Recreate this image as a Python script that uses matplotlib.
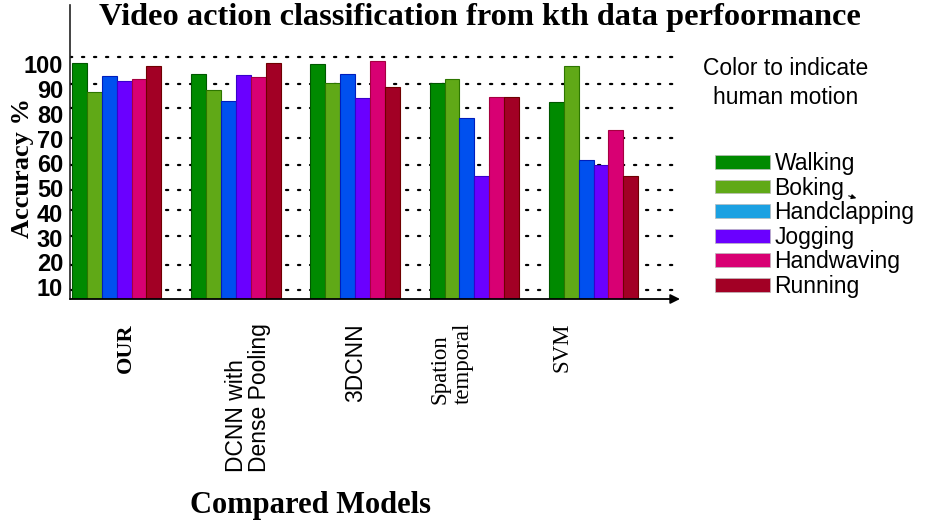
import numpy as np
import matplotlib
matplotlib.use("Agg")
import matplotlib.pyplot as plt
import matplotlib.transforms as mtransforms
from matplotlib.patches import Patch


##### DATA #####

models = ["OUR", "DCNN with\nDense Pooling", "3DCNN", "Spation\ntemporal", "SVM"]
motions = ["Walking", "Boking", "Handclapping", "Jogging", "Handwaving", "Running"]

walking      = [100.4, 95.9, 100.1, 92.3, 84.7]
boking       = [88.9, 89.6, 92.3, 93.9, 99.3]
handclapping = [95.4, 85.1, 96.0, 78.3, 61.3]
jogging      = [93.3, 95.8, 86.5, 55.0, 59.4]
handwaving   = [93.9, 95.0, 101.2, 86.9, 73.4]
running      = [99.3, 100.4, 90.9, 86.9, 54.9]

yticks = [10, 20, 30, 40, 50, 60, 70, 80, 90, 100]


##### STYLE #####

bar_colors    = ["#008a00", "#60a917", "#0050ef", "#6a00ff", "#d80073", "#a20025"]
edge_colors   = ["#005700", "#2d7600", "#001dbc", "#3700cc", "#a50040", "#6f0000"]
legend_colors = ["#008a00", "#60a917", "#1ba1e2", "#6a00ff", "#d80073", "#a20025"]

# dotted guide lines (hand drawn in the original, not on the tick values)
guide_levels = [102.9, 92.0, 82.3, 70.2, 59.3, 49.2, 41.2, 30.7, 19.0, 8.9]

# per label shift of the category names (in bar widths)
label_shift = [0.6, 0.8, 0.0, -1.5, -2.1]
label_font = [
    dict(family="Liberation Serif", weight="bold", size=16, linespacing=1.0),
    dict(family="Liberation Sans", weight="normal", size=16.5, linespacing=1.0),
    dict(family="Liberation Sans", weight="normal", size=16.5, linespacing=1.0),
    dict(family="Liberation Serif", weight="normal", size=16.5, linespacing=1.15),
    dict(family="Liberation Serif", weight="normal", size=16.5, linespacing=1.0),
]

W, H = 925, 525
fig = plt.figure(figsize=(W / 100, H / 100), dpi=100)
fig.patch.set_facecolor("white")

# axes box in pixels : left 70, right 680, bottom 299, top 5
ax = fig.add_axes([70 / W, (H - 299) / H, (680 - 70) / W, (299 - 5) / H])

series = [walking, boking, handclapping, jogging, handwaving, running]
group_pitch = 8.0
group_start = np.arange(len(models)) * group_pitch

for k, vals in enumerate(series):
    ax.bar(group_start + k + 0.5, vals, width=1.0,
           color=bar_colors[k], edgecolor=edge_colors[k], linewidth=0.8,
           zorder=3)

ax.set_xlim(-0.13, 40.8)
ax.set_ylim(5.25, 123.9)

# dotted guides behind the bars
for lev in guide_levels:
    ax.axhline(lev, color="black", linestyle=(0, (1, 4.4)), linewidth=1.6,
               dash_capstyle="round", zorder=1)

ax.set_yticks(yticks)
ax.set_yticklabels([str(v) for v in yticks], family="Liberation Sans",
                   weight="bold", size=17)
ax.tick_params(axis="y", length=0, pad=5)
ax.set_xticks([])

for s in ["top", "right", "bottom"]:
    ax.spines[s].set_visible(False)
ax.spines["left"].set_linewidth(1.2)
ax.spines["left"].set_color("#222222")

# x axis with arrow head
ax.annotate("", xy=(1.0, 0.0), xytext=(0.0, 0.0), xycoords="axes fraction",
            arrowprops=dict(arrowstyle="-|>", color="black", lw=1.3,
                            mutation_scale=14, shrinkA=0, shrinkB=0),
            zorder=5)

# category names below the axis
trans = mtransforms.blended_transform_factory(ax.transData, fig.transFigure)
for i, name in enumerate(models):
    ax.text(group_start[i] + 3.0 + label_shift[i], (H - 323) / H, name,
            rotation=90, ha="center", va="top", transform=trans,
            multialignment="left", **label_font[i])

fig.text(22 / W, 1 - 168 / H, "Accuracy %", rotation=90, ha="center",
         va="center", family="Liberation Serif", weight="bold", size=19)

fig.text(480 / W, 1 - 18 / H,
         "Video action classification from kth data perfoormance",
         ha="center", va="center", family="Liberation Serif",
         weight="bold", size=23.3)

fig.text(310 / W, 1 - 505 / H, "Compared Models", ha="center", va="center",
         family="Liberation Serif", weight="bold", size=22)

fig.text(786 / W, 1 - 83 / H, "Color to indicate\nhuman motion", ha="center",
         va="center", multialignment="center", family="Liberation Sans",
         size=16.5, linespacing=1.35)

handles = [Patch(facecolor=c, edgecolor="#bbbbbb", linewidth=0.5)
           for c in legend_colors]
leg = fig.legend(handles, motions, loc="upper left",
                 bbox_to_anchor=(715 / W, 1 - 152 / H), frameon=False,
                 prop=dict(family="Liberation Sans", size=16.5),
                 handlelength=2.4, handleheight=0.55, handletextpad=0.2,
                 labelspacing=0.07, borderpad=0, borderaxespad=0)

# small stray arrow next to "Boking"
fig.add_artist(matplotlib.patches.FancyArrowPatch(
    (846 / W, 1 - 195 / H), (859 / W, 1 - 199 / H),
    transform=fig.transFigure, arrowstyle="-|>", mutation_scale=7,
    color="black", lw=0.8))

fig.savefig("out.png", dpi=100, facecolor="white")
